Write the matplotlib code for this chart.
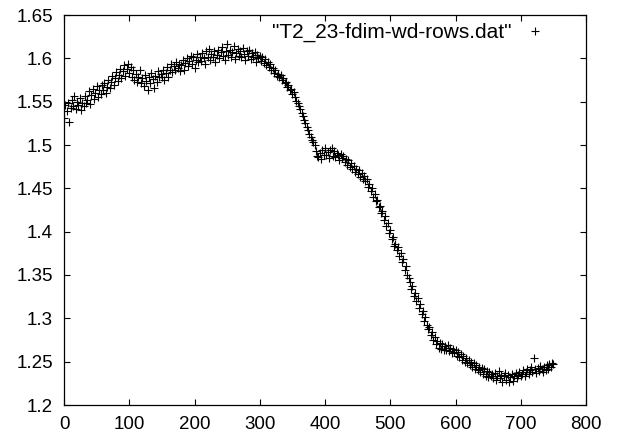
import numpy as np
import matplotlib
matplotlib.use("Agg")
import matplotlib.pyplot as plt

# values, one every 2 rows (x = 0, 2, 4, ... 750)
x_start = 0
x_step = 2
fdim = [
    1.531, 1.546, 1.539, 1.548, 1.527, 1.543, 1.552, 1.545, 1.557, 1.541, 1.550, 1.546, 1.554, 1.540, 1.549,
    1.545, 1.556, 1.548, 1.552, 1.562, 1.547, 1.558, 1.565, 1.553, 1.560, 1.568, 1.555, 1.563, 1.559, 1.569,
    1.564, 1.571, 1.560, 1.567, 1.575, 1.566, 1.573, 1.580, 1.569, 1.577, 1.584, 1.574, 1.581, 1.588, 1.577,
    1.585, 1.592, 1.580, 1.588, 1.594, 1.583, 1.590, 1.579, 1.586, 1.575, 1.582, 1.573, 1.579, 1.586, 1.571,
    1.577, 1.568, 1.581, 1.574, 1.563, 1.578, 1.571, 1.583, 1.576, 1.566, 1.580, 1.573, 1.585, 1.578, 1.582,
    1.579, 1.586, 1.575, 1.583, 1.590, 1.578, 1.587, 1.593, 1.584, 1.591, 1.586, 1.596, 1.589, 1.593, 1.585,
    1.592, 1.598, 1.587, 1.595, 1.600, 1.591, 1.597, 1.603, 1.594, 1.601, 1.589, 1.598, 1.605, 1.596, 1.602,
    1.597, 1.606, 1.600, 1.594, 1.608, 1.602, 1.611, 1.598, 1.605, 1.601, 1.609, 1.596, 1.604, 1.610, 1.600,
    1.607, 1.613, 1.603, 1.598, 1.609, 1.616, 1.604, 1.610, 1.601, 1.607, 1.614, 1.599, 1.606, 1.611, 1.603,
    1.609, 1.602, 1.612, 1.605, 1.598, 1.608, 1.603, 1.610, 1.599, 1.606, 1.601, 1.607, 1.596, 1.604, 1.600,
    1.603, 1.597, 1.601, 1.595, 1.599, 1.592, 1.596, 1.590, 1.593, 1.586, 1.589, 1.583, 1.586, 1.580, 1.582,
    1.578, 1.581, 1.575, 1.577, 1.571, 1.573, 1.567, 1.569, 1.563, 1.565, 1.559, 1.561, 1.555, 1.551, 1.548,
    1.545, 1.541, 1.537, 1.533, 1.529, 1.525, 1.521, 1.517, 1.513, 1.509, 1.506, 1.503, 1.500, 1.493, 1.487,
    1.486, 1.491, 1.484, 1.494, 1.488, 1.496, 1.489, 1.492, 1.485, 1.494, 1.497, 1.487, 1.493, 1.486, 1.491,
    1.489, 1.483, 1.490, 1.485, 1.487, 1.480, 1.484, 1.477, 1.483, 1.475, 1.479, 1.472, 1.476, 1.469, 1.472,
    1.467, 1.471, 1.463, 1.468, 1.461, 1.464, 1.458, 1.461, 1.452, 1.455, 1.447, 1.450, 1.440, 1.443, 1.435,
    1.436, 1.428, 1.430, 1.421, 1.424, 1.414, 1.418, 1.407, 1.410, 1.399, 1.402, 1.391, 1.394, 1.383, 1.386,
    1.379, 1.382, 1.372, 1.375, 1.365, 1.368, 1.356, 1.360, 1.350, 1.346, 1.342, 1.334, 1.337, 1.326, 1.329,
    1.320, 1.323, 1.312, 1.316, 1.305, 1.309, 1.297, 1.302, 1.292, 1.288, 1.290, 1.281, 1.284, 1.275, 1.278,
    1.270, 1.274, 1.266, 1.271, 1.265, 1.270, 1.263, 1.268, 1.264, 1.269, 1.262, 1.266, 1.260, 1.265, 1.261,
    1.263, 1.257, 1.261, 1.255, 1.259, 1.252, 1.257, 1.250, 1.254, 1.248, 1.252, 1.246, 1.250, 1.244, 1.248,
    1.242, 1.246, 1.240, 1.244, 1.238, 1.243, 1.236, 1.241, 1.234, 1.239, 1.232, 1.238, 1.233, 1.236, 1.231,
    1.237, 1.229, 1.234, 1.239, 1.231, 1.235, 1.227, 1.233, 1.237, 1.229, 1.235, 1.226, 1.232, 1.236, 1.228,
    1.233, 1.237, 1.231, 1.235, 1.238, 1.233, 1.236, 1.240, 1.234, 1.238, 1.242, 1.236, 1.240, 1.244, 1.238,
    1.254, 1.241, 1.237, 1.243, 1.239, 1.245, 1.241, 1.238, 1.244, 1.240, 1.246, 1.242, 1.247, 1.244, 1.249,
    1.247,
]
rows = x_start + x_step * np.arange(len(fdim))

xticks = [0, 100, 200, 300, 400, 500, 600, 700, 800]
yticks = [1.2, 1.25, 1.3, 1.35, 1.4, 1.45, 1.5, 1.55, 1.6, 1.65]
ytick_labels = ["1.2", "1.25", "1.3", "1.35", "1.4", "1.45", "1.5", "1.55", "1.6", "1.65"]
series_name = '"T2_23-fdim-wd-rows.dat"'

plt.rcParams['font.family'] = ['Liberation Sans', 'DejaVu Sans']

fig = plt.figure(figsize=(6.22, 4.37), dpi=100)
ax = fig.add_axes([64/622, 32/437, (586-64)/622, (405-15)/437])

ax.plot(rows, fdim, linestyle='none', marker='+', markersize=6,
        markeredgewidth=0.8, color='black', label=series_name)

ax.set_xlim(0, 800)
ax.set_ylim(1.2, 1.65)
ax.set_xticks(xticks)
ax.set_yticks(yticks)
ax.set_yticklabels(ytick_labels)
ax.tick_params(direction='in', length=4.5, width=0.8, labelsize=13.5,
               top=True, right=True, pad=8)
for s in ax.spines.values():
    s.set_linewidth(0.9)

ax.legend(loc='upper right', frameon=False, markerfirst=False, fontsize=15,
          handlelength=1.0, handletextpad=0.6, borderaxespad=0, borderpad=0,
          bbox_to_anchor=(0.922, 0.98))

fig.savefig("out.png", dpi=100)
